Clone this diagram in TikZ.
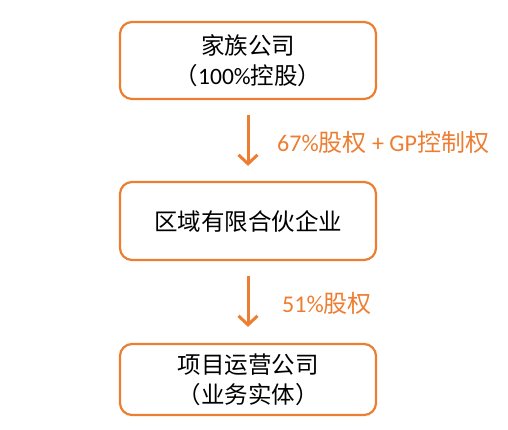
\documentclass[tikz,border=0pt]{standalone}
\usepackage{fontspec}
\setmainfont{Carlito}
\newfontfamily\cjk{Noto Sans CJK SC}
\usetikzlibrary{arrows.meta}
\definecolor{orng}{HTML}{ED7D31}
\begin{document}
\begin{tikzpicture}[x=1pt,y=-1pt,
  box/.style={draw=orng,line width=2.2pt,rounded corners=12pt,minimum width=256pt,align=center,
    font=\fontsize{23.5}{30}\selectfont,text=black,inner sep=0pt},
  flow/.style={draw=orng,line width=3pt,-{Straight Barb[length=9pt,width=19pt,line width=3pt]}},
  lbl/.style={anchor=west,text=orng,font=\fontsize{24}{28}\selectfont,inner sep=0pt}]
\useasboundingbox (0,0) rectangle (508,430);
\node[box,minimum height=77pt] (top) at (248,60.5) {{\cjk 家族公司}\\{\cjk （}100\%{\cjk 控股）}};
\node[box,minimum height=78pt] (mid) at (248,221) {{\cjk 区域有限合伙企业}};
\node[box,minimum height=71pt] (bot) at (248,379.5) {{\cjk 项目运营公司}\\{\cjk （业务实体）}};
\draw[flow,shorten <=15pt,shorten >=15pt] (top.south) -- (mid.north);
\draw[flow,shorten <=15pt,shorten >=16pt] (mid.south) -- (bot.north);
\node[lbl] (l1) at (277,142) {67\%{\cjk 股权} + GP{\cjk 控制权}};
\node[lbl] (l2) at (282,303) {51\%{\cjk 股权}};
\end{tikzpicture}
\end{document}
